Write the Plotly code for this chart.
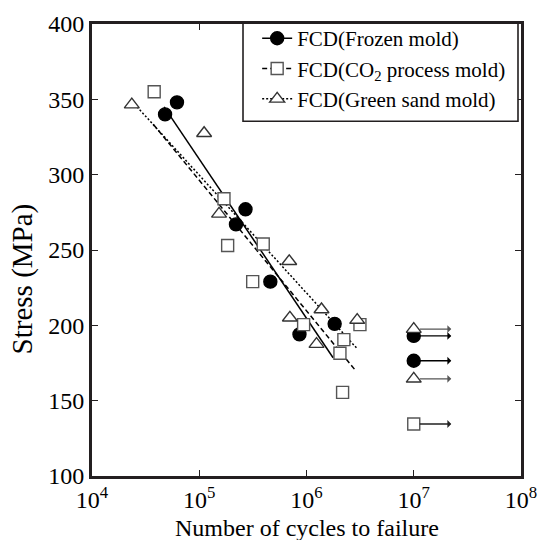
import numpy as np
import plotly.graph_objects as go

# ---- data ----
frozen_N = [4.8e4, 6.2e4, 2.2e5, 2.7e5, 4.6e5, 8.6e5, 1.83e6]
frozen_S = [340, 348, 267, 277, 229, 194, 201]
frozen_runout_N = [1e7, 1e7]
frozen_runout_S = [193, 176.5]
frozen_fit_N = [4.7e4, 1.77e6]
frozen_fit_S = [345, 178.5]

co2_N = [3.8e4, 1.7e5, 1.84e5, 3.15e5, 3.95e5, 9.4e5, 2.05e6, 2.17e6, 2.23e6, 3.15e6]
co2_S = [355, 284, 253, 229, 254, 200.5, 181.5, 155.5, 190.5, 200.5]
co2_runout_N = [1e7]
co2_runout_S = [134.5]
co2_fit_N = [3.72e4, 2.83e6]
co2_fit_S = [333.5, 170.5]

green_N = [2.35e4, 1.11e5, 1.53e5, 6.9e5, 7.0e5, 1.24e6, 1.38e6, 2.97e6]
green_S = [346.5, 327.5, 274, 242.5, 205, 187.5, 210.5, 203.5]
green_runout_N = [1e7, 1e7]
green_runout_S = [197.5, 164.5]
green_fit_N = [2.34e4, 2.97e6]
green_fit_S = [349, 184.5]

x_tickvals = [1e4, 1e5, 1e6, 1e7, 1e8]
x_ticktext = ["10<sup>4</sup>", "10<sup>5</sup>", "10<sup>6</sup>", "10<sup>7</sup>", "10<sup>8</sup>"]
y_tickvals = [100, 150, 200, 250, 300, 350, 400]

names = ["FCD(Frozen mold)", "FCD(CO<sub>2</sub> process mold)", "FCD(Green sand mold)"]

FONT = "Liberation Serif, Times New Roman, serif"
FRAME = "#231f20"

series = [
    dict(N=frozen_N, S=frozen_S, rN=frozen_runout_N, rS=frozen_runout_S,
         fN=frozen_fit_N, fS=frozen_fit_S, symbol="circle", size=13,
         fill="black", edge="black", dash="solid", arrow="black"),
    dict(N=co2_N, S=co2_S, rN=co2_runout_N, rS=co2_runout_S,
         fN=co2_fit_N, fS=co2_fit_S, symbol="square", size=12,
         fill="white", edge="#555555", dash="5px,3px", arrow="#222222"),
    dict(N=green_N, S=green_S, rN=green_runout_N, rS=green_runout_S,
         fN=green_fit_N, fS=green_fit_S, symbol="triangle-up", size=13,
         fill="white", edge="#333333", dash="2px,2px", arrow="#555555"),
]

fig = go.Figure()

# fit lines
for s in series:
    fig.add_trace(go.Scatter(x=s["fN"], y=s["fS"], mode="lines",
                             line=dict(color="black", width=1.5, dash=s["dash"]),
                             showlegend=False, hoverinfo="skip"))

# data markers + runouts
for s in series:
    mk = dict(symbol=s["symbol"], size=s["size"], color=s["fill"],
              line=dict(color=s["edge"], width=1.4))
    fig.add_trace(go.Scatter(x=s["N"], y=s["S"], mode="markers", marker=mk,
                             showlegend=False))
    fig.add_trace(go.Scatter(x=s["rN"], y=s["rS"], mode="markers", marker=mk,
                             showlegend=False))

# legend entries
for s, nm in zip(series, names):
    mk = dict(symbol=s["symbol"], size=s["size"], color=s["fill"],
              line=dict(color=s["edge"], width=1.4))
    fig.add_trace(go.Scatter(x=[None], y=[None], mode="lines+markers", name=nm,
                             marker=mk,
                             line=dict(color="black", width=1.5, dash=s["dash"])))

# runout arrows
annotations = []
for s in series:
    for n, v in zip(s["rN"], s["rS"]):
        annotations.append(dict(x=float(np.log10(n)), y=v, xref="x", yref="y",
                                text="", showarrow=True, ax=39, ay=0,
                                axref="pixel", ayref="pixel",
                                arrowside="start", arrowhead=2, arrowsize=1.7,
                                arrowwidth=1.3, arrowcolor=s["arrow"], standoff=6))

annotations.append(dict(text="Stress (MPa)", xref="paper", yref="paper",
                        x=0, y=0.435, xshift=-70, xanchor="center", yanchor="middle",
                        textangle=-90, showarrow=False,
                        font=dict(family=FONT, size=29, color="black")))
annotations.append(dict(text="Number of cycles to failure", xref="paper", yref="paper",
                        x=0.5, y=0, yshift=-37, xanchor="center", yanchor="top",
                        showarrow=False,
                        font=dict(family=FONT, size=24, color="black")))

fig.update_layout(
    width=539, height=540,
    margin=dict(l=92, r=18, t=24, b=64, autoexpand=False),
    paper_bgcolor="white", plot_bgcolor="white",
    font=dict(family=FONT, size=24, color="black"),
    showlegend=True,
    legend=dict(x=0.385, y=1.013, xanchor="left", yanchor="top",
                bgcolor="rgba(0,0,0,0)", borderwidth=0,
                font=dict(family=FONT, size=21, color="black"),
                tracegroupgap=0, itemsizing="trace"),
    shapes=[dict(type="rect", xref="paper", yref="paper",
                 x0=0.352, x1=0.993, y0=0.785, y1=1.002,
                 line=dict(color=FRAME, width=1.6), fillcolor="white",
                 layer="above")],
    annotations=annotations,
)

fig.update_xaxes(type="log", range=[4, 8], tickmode="array",
                 tickvals=x_tickvals, ticktext=x_ticktext,
                 ticks="inside", ticklen=6, tickwidth=1, tickcolor=FRAME,
                 showline=True, linewidth=3, linecolor=FRAME, mirror="ticks",
                 showgrid=False, zeroline=False, automargin=False,
                 tickfont=dict(family=FONT, size=24, color="black"))
fig.update_yaxes(range=[100, 400], tickmode="array", tickvals=y_tickvals,
                 ticks="inside", ticklen=6, tickwidth=1, tickcolor=FRAME,
                 showline=True, linewidth=3, linecolor=FRAME, mirror="ticks",
                 showgrid=False, zeroline=False, automargin=False,
                 tickfont=dict(family=FONT, size=24, color="black"))

fig.write_html("out.html", config={"displayModeBar": False},
               post_script="document.body.style.margin='0';document.body.style.padding='0';")
